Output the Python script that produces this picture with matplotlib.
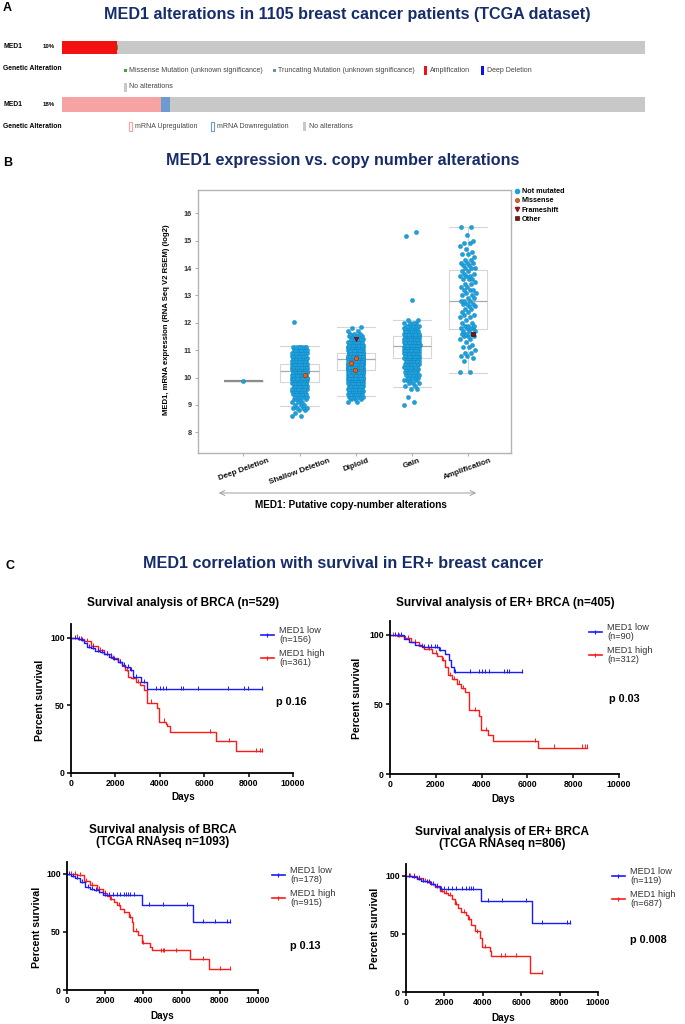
import numpy as np
import matplotlib
matplotlib.use('Agg')
import matplotlib.pyplot as plt
from matplotlib.lines import Line2D
from matplotlib.patches import FancyArrowPatch, Rectangle

plt.rcParams['font.family'] = ['Liberation Sans', 'DejaVu Sans']

W, H = 685, 1024
NAVY = '#172d6b'

# ---------------- data ----------------
# panel A: oncoprint counts (1105 patients)
n_patients = 1105
amp_count = 104
missense_count = 3
mrna_up_count = 188
mrna_down_count = 17

# panel B: MED1 expression per copy-number group, counts per 0.1 log2 bin
cna_groups = ['Deep Deletion', 'Shallow Deletion', 'Diploid', 'Gain', 'Amplification']
deep_start, deep_counts, deep_extra = 9.87, [1], []
shallow_start = 8.6
shallow_counts = [2, 1, 2, 4, 3, 3, 4, 5, 6, 8, 10, 12, 15, 17, 19, 20, 20, 19, 18, 16, 14, 12, 10, 9, 8, 7]
shallow_extra = [12.02]
diploid_start = 9.1
diploid_counts = [2, 3, 6, 8, 10, 12, 14, 17, 20, 24, 27, 30, 32, 34, 34, 33, 31, 28, 25, 21, 17, 13, 10, 7, 5, 3, 2, 1]
diploid_extra = [11.85]
gain_start = 9.0
gain_counts = [1, 1, 0, 1, 0, 0, 2, 2, 3, 4, 4, 5, 5, 6, 7, 8, 10, 12, 13, 15, 18, 19, 19, 19, 18, 16, 13, 10, 8, 5, 4, 2]
gain_extra = [12.83, 15.17, 15.32]
amp_start = 10.1
amp_counts = [0, 2, 0, 0, 0, 1, 1, 2, 2, 1, 2, 1, 1, 2, 3, 3, 3, 4, 3, 2, 1, 2, 2, 2, 2, 2, 3, 3, 2, 2,
              2, 3, 2, 2, 1, 3, 3, 2, 2, 3, 2, 3, 2, 1, 2, 1, 1, 1, 2, 1, 0, 1, 0, 0, 2]
amp_extra = []

box_q1 = [9.87, 9.84, 10.26, 10.73, 11.78]
box_med = [9.87, 10.23, 10.67, 11.17, 12.78]
box_q3 = [9.87, 10.48, 10.91, 11.50, 13.94]
box_lo = [9.87, 8.95, 9.34, 9.66, 10.15]
box_hi = [9.87, 11.15, 11.85, 12.10, 15.49]

mut_group = [1, 2, 2, 2, 2, 4]
mut_value = [10.10, 10.72, 10.54, 10.26, 11.41, 11.60]
mut_type = ['Missense', 'Missense', 'Missense', 'Missense', 'Frameshift', 'Other']
mut_shift = [0.09, 0.01, -0.09, -0.02, 0.01, 0.09]

# panel C: Kaplan-Meier steps (days, percent survival) and censor times
brca_low_t = [0, 150, 300, 450, 600, 700, 900, 1100, 1300, 1500, 1700, 1900, 2100, 2300, 2450, 2650, 2800, 3150, 3420, 8600]
brca_low_s = [100, 99.5, 99, 98, 96, 93, 92, 90, 89, 87.5, 86, 84, 82, 80, 78, 76, 71, 67, 62, 62]
brca_low_c = [200, 350, 500, 800, 1000, 1200, 1400, 1600, 1800, 1950, 2200, 2400, 2550, 2700, 2950, 3300,
              3820, 4000, 4160, 4270, 4940, 5040, 5720, 7075, 7780, 7970, 8600]
brca_high_t = [0, 300, 600, 900, 1200, 1500, 1800, 2100, 2300, 2450, 2550, 2700, 2930, 3100, 3300, 3420,
               3870, 3970, 4270, 4340, 4460, 6510, 7430, 8600]
brca_high_s = [100, 99, 97.5, 94, 91, 88, 85, 82, 79, 76, 71, 70, 67, 65, 61, 52, 48, 38, 36, 35, 30, 23.5, 16, 16]
brca_high_c = [250, 450, 700, 1000, 1300, 1600, 1900, 2200, 2500, 2800, 3000, 3600, 4200, 6280, 7100, 8340, 8520, 8600]

er_low_t = [0, 600, 815, 1100, 1400, 2120, 2410, 2560, 2670, 2780, 5760]
er_low_s = [100, 97, 95, 93, 91, 89, 86, 82, 77, 73, 73]
er_low_c = [200, 350, 500, 1500, 1650, 1800, 1950, 2050, 2200, 2850, 3500, 3870, 4010, 4160, 4330, 4960, 5100, 5200, 5760]
er_high_t = [0, 300, 670, 900, 1250, 1500, 1830, 2050, 2270, 2410, 2530, 2700, 2920, 3100, 3280, 3430,
             3900, 3980, 4300, 4480, 6480, 8590]
er_high_s = [100, 99, 97.5, 95, 92, 90, 87, 85, 82, 77, 71, 68, 65, 62, 59, 46, 42, 31.5, 28, 23.5, 19, 19]
er_high_c = [150, 400, 800, 1100, 1400, 1700, 2000, 2300, 2600, 2800, 3000, 3200, 3700, 4200, 6340, 7140, 8370, 8520, 8590]

rna_low_t = [0, 200, 435, 700, 960, 1200, 1390, 1650, 1910, 3910, 6610, 8560]
rna_low_s = [100, 98, 96, 93, 88.6, 87, 86, 84, 82, 73.4, 58.6, 58.6]
rna_low_c = [100, 300, 500, 800, 1100, 1300, 1500, 1700, 2000, 2200, 2400, 2600, 2800, 3000, 3100, 3200,
             3300, 3500, 4310, 5040, 6260, 7100, 7770, 8380, 8560]
rna_high_t = [0, 520, 870, 1220, 1570, 1910, 2100, 2260, 2450, 2610, 2800, 2960, 3220, 3390, 3480, 3740,
              3910, 4350, 4430, 6430, 7440, 8560]
rna_high_s = [100, 98.6, 94, 90, 87, 83, 81, 78.6, 76, 73, 70, 67, 63, 58.6, 51, 47, 40.6, 37, 34, 27, 17.7, 17.7]
rna_high_c = [200, 400, 700, 1000, 1300, 1700, 2000, 2300, 2700, 3000, 3300, 3600, 4000, 4920, 5000, 5100,
              5700, 7100, 8000, 8560]

errna_low_t = [0, 300, 550, 800, 1070, 1300, 1500, 1760, 3930, 6570, 8550]
errna_low_s = [100, 99, 97, 95.5, 94.3, 93, 91.5, 88.7, 78, 59, 59]
errna_low_c = [150, 400, 700, 900, 1100, 1200, 1400, 1600, 1800, 2000, 2200, 2400, 2600, 2900, 3100, 3300,
               3400, 3500, 4270, 5020, 6260, 7090, 8400, 8550]
errna_high_t = [0, 550, 900, 1250, 1500, 1760, 2000, 2200, 2400, 2540, 2700, 2890, 3100, 3240, 3410, 3580,
                3840, 3980, 4360, 4450, 6440, 7090]
errna_high_s = [100, 98, 95.5, 93, 90, 87, 85, 83, 80, 76, 72, 69, 66, 63, 57.5, 52, 46, 38.5, 35, 31, 16, 16]
errna_high_c = [200, 400, 700, 1000, 1300, 1600, 1900, 2100, 2300, 2600, 3000, 3300, 3700, 4100, 4970, 5140, 5710, 7090]


# ---------------- helpers (pixel layout) ----------------
def fx(x):
    return x / W


def fy(y):
    return 1 - y / H


def box(l, t, r, b):
    return [l / W, 1 - b / H, (r - l) / W, (b - t) / H]


def ftext(x, y, s, **kw):
    return fig.text(fx(x), fy(y), s, **kw)


def frect(x, y, w, h, **kw):
    r = Rectangle((fx(x), fy(y + h)), w / W, h / H, transform=fig.transFigure, **kw)
    fig.add_artist(r)


fig = plt.figure(figsize=(6.85, 10.24), dpi=100)
TITLE_SIZE = 11.6

# ================= panel A =================
ftext(3, 8, 'A', fontsize=9, fontweight='bold', va='center')
ftext(347, 14, 'MED1 alterations in 1105 breast cancer patients (TCGA dataset)',
      fontsize=TITLE_SIZE, fontweight='bold', color=NAVY, ha='center', va='center')

GREY = '#c8c8c8'
ax1 = fig.add_axes(box(62, 41, 645, 54))
ax1.barh(0.5, amp_count, left=0, height=1, color='#f41010', linewidth=0)
ax1.barh(0.5, n_patients - amp_count, left=amp_count, height=1, color=GREY, linewidth=0)
ax1.barh(0.5, missense_count, left=amp_count, height=0.34, color='#3aa82e', linewidth=0)
ax1.set_xlim(0, n_patients)
ax1.set_ylim(0, 1)
ax1.axis('off')

ax2 = fig.add_axes(box(62, 97, 645, 112))
ax2.barh(0.5, mrna_up_count, left=0, height=1, color='#f7a3a3', linewidth=0)
ax2.barh(0.5, mrna_down_count, left=mrna_up_count, height=1, color='#6b9bd1', linewidth=0)
ax2.barh(0.5, n_patients - mrna_up_count - mrna_down_count, left=mrna_up_count + mrna_down_count,
         height=1, color=GREY, linewidth=0)
ax2.set_xlim(0, n_patients)
ax2.set_ylim(0, 1)
ax2.axis('off')

lab_kw = dict(fontsize=4.9, fontweight='bold', va='center')
ftext(3, 47, 'MED1', **lab_kw)
ftext(43, 47, '10%', fontsize=4.4, fontweight='bold', va='center')
ftext(3, 68, 'Genetic Alteration', **lab_kw)
ftext(3, 105, 'MED1', **lab_kw)
ftext(43, 105, '18%', fontsize=4.4, fontweight='bold', va='center')
ftext(3, 126, 'Genetic Alteration', **lab_kw)

leg_kw = dict(fontsize=5.0, color='#444444', va='center')
frect(124, 68.5, 3, 3, color='#3aa82e', lw=0)
ftext(129, 70, 'Missense Mutation (unknown significance)', **leg_kw)
frect(273, 68.5, 3, 3, color='#6f8fa8', lw=0)
ftext(278, 70, 'Truncating Mutation (unknown significance)', **leg_kw)
frect(424, 65.5, 3, 9, color='#f41010', lw=0)
ftext(430, 70, 'Amplification', **leg_kw)
frect(481, 65.5, 3, 9, color='#1010e0', lw=0)
ftext(487, 70, 'Deep Deletion', **leg_kw)
frect(124, 82.5, 3, 9, color=GREY, lw=0)
ftext(129, 87, 'No alterations', **leg_kw)

frect(129, 122, 3, 9, facecolor='white', edgecolor='#f7a3a3', lw=0.8)
ftext(135, 127, 'mRNA Upregulation', **leg_kw)
frect(211, 122, 3, 9, facecolor='white', edgecolor='#6b9bd1', lw=0.8)
ftext(217, 127, 'mRNA Downregulation', **leg_kw)
frect(303, 122, 3, 9, color=GREY, lw=0)
ftext(309, 127, 'No alterations', **leg_kw)

# ================= panel B =================
ftext(3, 163, 'B', fontsize=9, fontweight='bold', va='center')
ftext(343, 160, 'MED1 expression vs. copy number alterations',
      fontsize=TITLE_SIZE, fontweight='bold', color=NAVY, ha='center', va='center')

axb = fig.add_axes(box(198, 190, 511, 453))
stats = []
for i in range(len(cna_groups)):
    stats.append(dict(q1=box_q1[i], med=box_med[i], q3=box_q3[i],
                      whislo=box_lo[i], whishi=box_hi[i], fliers=[]))
bp = axb.bxp(stats, positions=range(len(cna_groups)), widths=0.68, capwidths=0.68,
             showfliers=False, patch_artist=False,
             boxprops=dict(color='#d6d6d6', lw=0.8),
             medianprops=dict(color='#a9a9a9', lw=0.9),
             whiskerprops=dict(color='#d6d6d6', lw=0.8),
             capprops=dict(color='#d6d6d6', lw=0.8))
bp['medians'][0].set_color('#8c8c8c')
bp['medians'][0].set_linewidth(1.6)

group_data = [(deep_start, deep_counts, deep_extra),
              (shallow_start, shallow_counts, shallow_extra),
              (diploid_start, diploid_counts, diploid_extra),
              (gain_start, gain_counts, gain_extra),
              (amp_start, amp_counts, amp_extra)]
for gi, (start, counts, extra) in enumerate(group_data):
    vals = []
    for k, c in enumerate(counts):
        vals += [start + 0.1 * k] * c
    vals = np.array(vals + extra)
    if len(vals) == 1:
        offs = np.zeros(1)
    else:
        offs = ((np.arange(len(vals)) * 0.6180339887) % 1 - 0.5) * 0.28
    axb.scatter(gi + offs, vals, s=9, color='#1ea0dc', edgecolors='#1386c2', linewidths=0.3, zorder=3)

mk = {'Missense': ('o', '#e8601c', '#8a2a00'), 'Frameshift': ('v', '#9b1212', '#5a0000'),
      'Other': ('s', '#8a0c0c', '#1a0000')}
for g, v, t, d in zip(mut_group, mut_value, mut_type, mut_shift):
    m, c, e = mk[t]
    axb.scatter([g + d], [v], marker=m, s=10, color=c, edgecolors=e, linewidths=0.4, zorder=4)

axb.set_xlim(-0.81, 4.77)
axb.set_ylim(7.245, 16.85)
axb.set_yticks(range(8, 17))
axb.set_xticks(range(len(cna_groups)))
axb.set_xticklabels(cna_groups, rotation=20, ha='center', fontsize=5.8, fontweight='bold')
for lab in axb.get_yticklabels():
    lab.set_fontweight('bold')
axb.tick_params(axis='y', labelsize=5.2, colors='#9a9a9a', labelcolor='#333333', length=2.5, width=0.6, pad=2)
axb.tick_params(axis='x', colors='#9a9a9a', labelcolor='#111111', length=2, width=0.6, pad=1)
for s in axb.spines.values():
    s.set_color('#b3b3b3')
    s.set_linewidth(1.0)

ftext(167, 320, 'MED1, mRNA expression (RNA Seq V2 RSEM) (log2)', rotation=90,
      fontsize=5.6, fontweight='bold', ha='center', va='center')
fig.add_artist(FancyArrowPatch((fx(216), fy(493)), (fx(479), fy(493)), transform=fig.transFigure,
                               arrowstyle='<->', mutation_scale=9, color='#a0a0a0', lw=0.7))
ftext(351, 505, 'MED1: Putative copy-number alterations', fontsize=7.2, fontweight='bold',
      ha='center', va='center')

b_handles = [Line2D([], [], ls='none', marker='o', ms=3, color='#1ea0dc'),
             Line2D([], [], ls='none', marker='o', ms=3, color='#e8601c', mec='#8a2a00', mew=0.4),
             Line2D([], [], ls='none', marker='v', ms=3, color='#9b1212'),
             Line2D([], [], ls='none', marker='s', ms=2.5, color='#8a0c0c', mec='#1a0000', mew=0.4)]
fig.legend(b_handles, ['Not mutated', 'Missense', 'Frameshift', 'Other'], loc='upper left',
           bbox_to_anchor=(fx(514), fy(188)), frameon=False, prop=dict(size=5.2, weight='bold'),
           handlelength=0.8, handletextpad=0.3, labelspacing=0.3, borderpad=0, borderaxespad=0)

# ================= panel C =================
ftext(5, 566, 'C', fontsize=9, fontweight='bold', va='center')
ftext(343, 563, 'MED1 correlation with survival in ER+ breast cancer',
      fontsize=TITLE_SIZE, fontweight='bold', color=NAVY, ha='center', va='center')

km_panels = [
    dict(rect=(71, 624, 293, 773), title='Survival analysis of BRCA (n=529)', tpos=(183, 603),
         ylab=(40, 700), xlab=(183, 797), leg=(261, 626), p='p 0.16', ppos=(276, 702),
         low=(brca_low_t, brca_low_s, brca_low_c), high=(brca_high_t, brca_high_s, brca_high_c),
         labels=['MED1 low\n(n=156)', 'MED1 high\n(n=361)']),
    dict(rect=(390, 621, 619, 774), title='Survival analysis of ER+ BRCA (n=405)', tpos=(505, 603),
         ylab=(357, 698), xlab=(503, 799), leg=(589, 623), p='p 0.03', ppos=(609, 699),
         low=(er_low_t, er_low_s, er_low_c), high=(er_high_t, er_high_s, er_high_c),
         labels=['MED1 low\n(n=90)', 'MED1 high\n(n=312)']),
    dict(rect=(67, 862, 258, 990), title='Survival analysis of BRCA\n(TCGA RNAseq n=1093)', tpos=(163, 836),
         ylab=(37, 927), xlab=(162, 1016), leg=(272, 866), p='p 0.13', ppos=(290, 946),
         low=(rna_low_t, rna_low_s, rna_low_c), high=(rna_high_t, rna_high_s, rna_high_c),
         labels=['MED1 low\n(n=178)', 'MED1 high\n(n=915)']),
    dict(rect=(406, 864, 598, 992), title='Survival analysis of ER+ BRCA\n(TCGA RNAseq n=806)', tpos=(502, 838),
         ylab=(375, 928), xlab=(503, 1018), leg=(612, 867), p='p 0.008', ppos=(630, 940),
         low=(errna_low_t, errna_low_s, errna_low_c), high=(errna_high_t, errna_high_s, errna_high_c),
         labels=['MED1 low\n(n=119)', 'MED1 high\n(n=687)']),
]

for pnl in km_panels:
    ax = fig.add_axes(box(*pnl['rect']))
    for (t, s, c), col in [(pnl['high'], '#ff1a1a'), (pnl['low'], '#1a1aff')]:
        t = np.array(t)
        s = np.array(s)
        ax.step(t, s, where='post', color=col, lw=1.0, clip_on=False)
        cy = s[np.searchsorted(t, c, side='right') - 1]
        ax.plot(c, cy + 0.8, ls='none', marker='|', ms=3, mew=0.7, color=col, clip_on=False)
    ax.set_xlim(0, 10000)
    ax.set_ylim(0, 110)
    ax.set_xticks([0, 2000, 4000, 6000, 8000, 10000])
    ax.set_yticks([0, 50, 100])
    for sp in ['top', 'right']:
        ax.spines[sp].set_visible(False)
    for sp in ['left', 'bottom']:
        ax.spines[sp].set_linewidth(1.3)
    ax.tick_params(direction='out', length=3, width=1.1, labelsize=6.3, pad=1.5)
    for lab in ax.get_xticklabels() + ax.get_yticklabels():
        lab.set_fontweight('bold')

    ftext(pnl['tpos'][0], pnl['tpos'][1], pnl['title'], fontsize=8.5, fontweight='bold',
          ha='center', va='center', linespacing=1.05)
    ftext(pnl['ylab'][0], pnl['ylab'][1], 'Percent survival', rotation=90, fontsize=7.6,
          fontweight='bold', ha='center', va='center')
    ftext(pnl['xlab'][0], pnl['xlab'][1], 'Days', fontsize=7.2, fontweight='bold', ha='center', va='center')
    ftext(pnl['ppos'][0], pnl['ppos'][1], pnl['p'], fontsize=7.8, fontweight='bold', va='center')

    hnd = [Line2D([], [], color='#1a1aff', lw=1.2, marker='|', ms=3, mew=0.8),
           Line2D([], [], color='#ff1a1a', lw=1.2, marker='|', ms=3, mew=0.8)]
    lg = fig.legend(hnd, pnl['labels'], loc='upper left', bbox_to_anchor=(fx(pnl['leg'][0]), fy(pnl['leg'][1])),
                    frameon=False, fontsize=6.6, handlelength=1.4, handletextpad=0.6, labelspacing=0.5,
                    borderpad=0, borderaxespad=0)
    for tx in lg.get_texts():
        tx.set_color('#333333')
        tx.set_linespacing(1.05)

fig.savefig('out.png', dpi=100)
